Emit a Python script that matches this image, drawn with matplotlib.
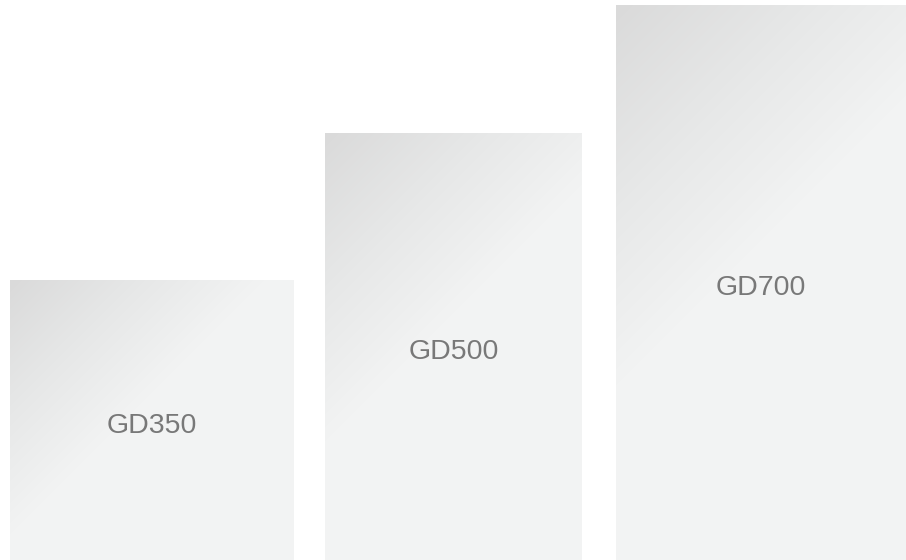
import numpy as np
import matplotlib.pyplot as plt
from matplotlib.colors import LinearSegmentedColormap

# bar data (in pixel-like units of the picture)
models = ["GD350", "GD500", "GD700"]
heights = [280, 427, 555]
lefts = [10, 325, 616]
widths = [284, 257, 290]

cmap = LinearSegmentedColormap.from_list(
    "bar_grad", [(0.0, "#dadada"), (0.22, "#e6e7e7"), (0.45, "#f2f3f3"), (1.0, "#f2f4f3")]
)

fig = plt.figure(figsize=(9.06, 5.6), dpi=100)
ax = fig.add_axes([0, 0, 1, 1])
ax.set_xlim(0, 906)
ax.set_ylim(0, 560)
ax.axis("off")

bars = ax.bar(lefts, heights, width=widths, align="edge", color="none", edgecolor="none")

for bar, name in zip(bars, models):
    x0, w, h = bar.get_x(), bar.get_width(), bar.get_height()
    nx, ny = int(w), int(h)
    xx, yy = np.meshgrid(np.arange(nx), np.arange(ny))
    # distance from the top-left corner along the diagonal
    t = (xx + yy) / float(nx + ny)
    img = ax.imshow(t, cmap=cmap, vmin=0, vmax=1, extent=(x0, x0 + w, 0, h),
                    origin="upper", aspect="auto", interpolation="bilinear", zorder=1)
    img.set_clip_path(bar)
    ax.annotate(name, (x0 + w / 2, h / 2), xytext=(0, -4), textcoords="offset points",
                ha="center", va="center", fontsize=20.5, color="#787878",
                family="Liberation Sans", zorder=3)

fig.savefig("out.png", dpi=100)
